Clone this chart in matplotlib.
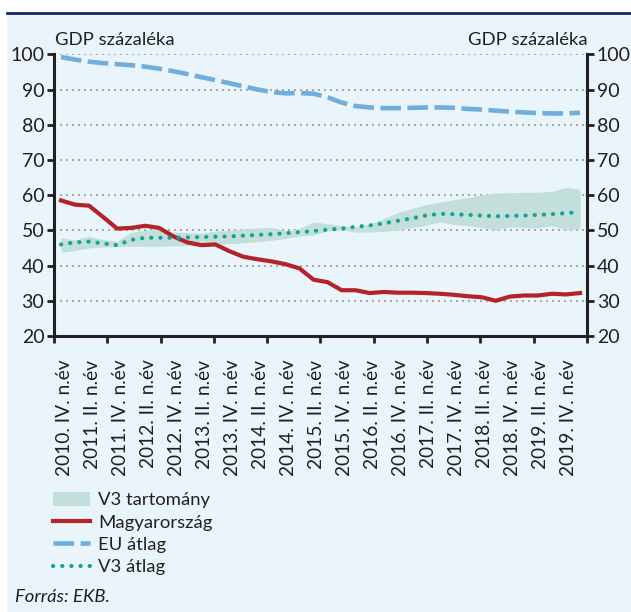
import numpy as np
import matplotlib.pyplot as plt
import matplotlib.transforms as mtransforms
from matplotlib.patches import Patch, Rectangle
from matplotlib.lines import Line2D

plt.rcParams['font.family'] = ['Lato', 'DejaVu Sans']

# quarterly labels, every second quarter (2010 Q4 .. 2019 Q4); data runs to 2020 Q1
tick_labels = ['2010. IV. n.év', '2011. II. n.év', '2011. IV. n.év', '2012. II. n.év',
               '2012. IV. n.év', '2013. II. n.év', '2013. IV. n.év', '2014. II. n.év',
               '2014. IV. n.év', '2015. II. n.év', '2015. IV. n.év', '2016. II. n.év',
               '2016. IV. n.év', '2017. II. n.év', '2017. IV. n.év', '2018. II. n.év',
               '2018. IV. n.év', '2019. II. n.év', '2019. IV. n.év']

magyarorszag = [58.5, 57.3, 57.0, 53.8, 50.5, 50.7, 51.3, 50.7, 48.3, 46.6,
                45.8, 46.0, 44.1, 42.5, 41.8, 41.2, 40.4, 39.2, 36.0, 35.3,
                33.0, 33.0, 32.2, 32.5, 32.3, 32.3, 32.2, 32.0, 31.7, 31.3,
                31.0, 30.0, 31.2, 31.5, 31.5, 32.0, 31.8, 32.2]

eu_atlag = [99.2, 98.5, 97.9, 97.5, 97.2, 96.9, 96.5, 95.9, 95.2, 94.4,
            93.5, 92.7, 91.8, 90.9, 90.0, 89.3, 88.9, 89.0, 88.8, 87.8,
            86.3, 85.3, 84.9, 84.7, 84.7, 84.8, 84.9, 84.9, 84.8, 84.5,
            84.3, 84.0, 83.7, 83.5, 83.3, 83.2, 83.2, 83.4]

v3_atlag = [46.0, 46.6, 46.8, 46.3, 45.8, 47.3, 47.9, 47.9, 47.9, 48.0,
            48.1, 48.2, 48.3, 48.5, 48.7, 48.9, 49.2, 49.5, 49.8, 50.2,
            50.5, 51.0, 51.4, 52.0, 52.7, 53.4, 54.2, 54.7, 54.6, 54.4,
            54.2, 54.0, 54.1, 54.2, 54.4, 54.6, 54.9, 55.2]

v3_min = [43.8, 44.3, 45.0, 45.3, 45.4, 45.5, 45.5, 45.5, 45.6, 45.7,
          45.8, 46.0, 46.2, 46.5, 46.8, 47.2, 47.7, 48.4, 48.7, 49.8,
          50.2, 49.5, 49.5, 49.7, 50.1, 50.8, 51.4, 52.4, 51.7, 51.3,
          50.8, 50.0, 51.0, 50.8, 50.7, 51.3, 50.2, 50.4]

v3_max = [47.9, 47.3, 48.3, 47.4, 46.9, 49.4, 50.0, 50.6, 49.5, 49.4,
          49.2, 49.8, 50.0, 50.4, 50.7, 50.8, 49.9, 50.5, 52.4, 51.9,
          51.3, 51.0, 51.8, 53.3, 55.0, 56.2, 57.3, 58.0, 58.7, 59.3,
          60.1, 60.6, 60.7, 60.8, 60.8, 61.1, 62.2, 61.7]

bg = '#E9F4FB'
dark = '#231F20'
red = '#B3232A'
blue = '#6FAEDD'
teal = '#14A398'
band = '#C3DFDA'
fs = 13.3

W, H = 631, 612
fig = plt.figure(figsize=(W / 100, H / 100), dpi=100)
fig.patch.set_facecolor('white')
fig.patches.append(Rectangle((7 / W, 0), 1 - 7 / W, 1 - 13 / H, transform=fig.transFigure,
                             facecolor=bg, edgecolor='none', zorder=-5))
fig.add_artist(Line2D([7 / W, 1], [1 - 12.5 / H, 1 - 12.5 / H], color='#1B2566', lw=2, zorder=-4))

ax = fig.add_axes([54 / W, 1 - 336 / H, (587 - 54) / W, (336 - 54.3) / H])
ax.set_zorder(2)
ax.patch.set_alpha(0)

x = np.arange(len(magyarorszag))
ax.fill_between(x, v3_min, v3_max, color=band, lw=0, zorder=2)
ax.plot(x, eu_atlag, color=blue, lw=3.3, dashes=(4.5, 1.4), zorder=3)
ax.plot(x, magyarorszag, color=red, lw=3.0, zorder=4)
ax.plot(x, v3_atlag, color=teal, lw=3.0, dashes=(0.05, 2.15), dash_capstyle='round', zorder=5)

ax.set_xlim(-0.5, len(x) - 0.5)
ax.set_ylim(20, 100)
ax.set_yticks(np.arange(20, 101, 10))
ax.yaxis.grid(True, color='#9A9A9A', lw=1.2, dashes=(1.2, 2.4), zorder=1)
ax.set_axisbelow(True)

ax.set_xticks(np.arange(0, len(x) - 1, 2))
ax.set_xticklabels(tick_labels, rotation=90, ha='center', va='top')
ax.set_xticks(np.linspace(-0.5, len(x) - 0.5, 11), minor=True)
ax.tick_params(axis='x', which='major', length=0, pad=17, labelsize=13.8, colors=dark)
ax.tick_params(axis='x', which='minor', length=5, width=2, color=dark, direction='out')
ax.tick_params(axis='y', length=5, width=2, color=dark, direction='out', pad=2,
               labelsize=14, labelcolor=dark, left=True, right=True,
               labelleft=True, labelright=True)
shift = mtransforms.ScaledTranslation(3 / 100, 0, fig.dpi_scale_trans)
for lab in ax.get_xticklabels():
    lab.set_transform(lab.get_transform() + shift)

for s in ['left', 'right', 'bottom']:
    ax.spines[s].set_color(dark)
    ax.spines[s].set_linewidth(2.2)
ax.spines['top'].set_visible(False)

fig.text(55 / W, 1 - 45 / H, 'GDP százaléka', fontsize=fs, color=dark, va='baseline', ha='left')
fig.text(588 / W, 1 - 45 / H, 'GDP százaléka', fontsize=fs, color=dark, va='baseline', ha='right')

handles = [Patch(facecolor=band, edgecolor='none'),
           Line2D([], [], color=red, lw=3.0),
           Line2D([], [], color=blue, lw=3.3, dashes=(4.5, 1.4)),
           Line2D([], [], color=teal, lw=3.0, dashes=(0.05, 2.15), dash_capstyle='round')]
names = ['V3 tartomány', 'Magyarország', 'EU átlag', 'V3 átlag']
fig.legend(handles, names, loc='upper left', bbox_to_anchor=(53 / W, 1 - 492 / H),
           frameon=False, fontsize=fs, handlelength=2.0, handleheight=0.75,
           handletextpad=0.45, labelspacing=0.33, borderpad=0, borderaxespad=0,
           labelcolor=dark)

fig.text(15 / W, 1 - 597 / H, 'Forrás: EKB.', fontsize=fs, style='italic', color=dark,
         va='center', ha='left')

fig.savefig('out.png', dpi=100)
